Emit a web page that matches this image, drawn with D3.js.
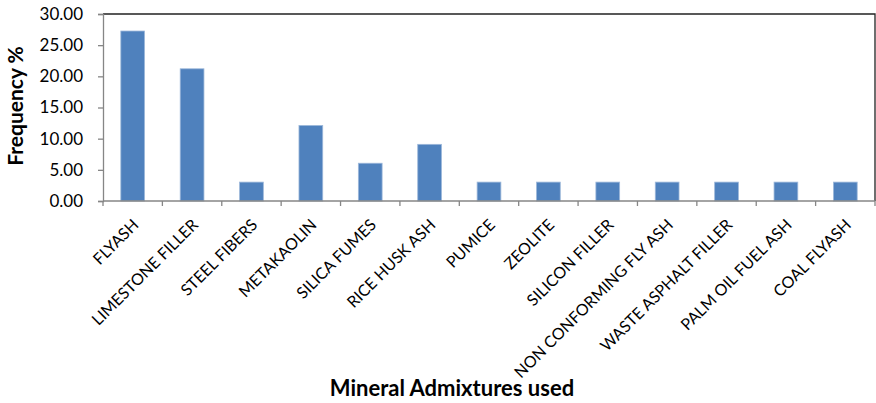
<!DOCTYPE html>
<html>
<head>
<meta charset="utf-8">
<script src="https://cdn.jsdelivr.net/npm/d3@7"></script>
<style>
  html, body { margin: 0; padding: 0; background: #fff; }
  svg { display: block; font-family: Lato, "Open Sans", sans-serif; }
</style>
</head>
<body>
<svg id="chart" width="876" height="403"></svg>
<script>
// Mineral admixtures and their share of the reviewed studies (%)
const categories = [
  "FLYASH", "LIMESTONE FILLER", "STEEL FIBERS", "METAKAOLIN", "SILICA FUMES",
  "RICE HUSK ASH", "PUMICE", "ZEOLITE", "SILICON FILLER", "NON CONFORMING FLY ASH",
  "WASTE ASPHALT FILLER", "PALM OIL FUEL ASH", "COAL FLYASH"
];
const frequency = [27.27, 21.21, 3.03, 12.12, 6.06, 9.09, 3.03, 3.03, 3.03, 3.03, 3.03, 3.03, 3.03];
const yTicks = [0, 5, 10, 15, 20, 25, 30];
const yTitle = "Frequency %";
const xTitle = "Mineral Admixtures used";

const svg = d3.select("#chart");
const plotL = 103, plotR = 875, plotT = 14, plotB = 201;

const x = d3.scaleBand().domain(categories).range([plotL, plotR]).paddingInner(0.6).paddingOuter(0.3);
const xBound = d3.scaleLinear().domain([0, categories.length]).range([plotL, plotR]);
const y = d3.scaleLinear().domain([0, 30]).range([plotB, plotT]);

// plot-area border (top and right)
svg.append("path")
  .attr("d", `M${plotL},${plotT}H${plotR}V${plotB}`)
  .attr("fill", "none").attr("stroke", "#222").attr("stroke-width", 1.3);

// bars
svg.append("g").selectAll("rect").data(frequency).join("rect")
  .attr("x", (d, i) => x(categories[i]))
  .attr("width", x.bandwidth())
  .attr("y", d => y(d))
  .attr("height", d => y(0) - y(d))
  .attr("fill", "#4F81BD")
  .attr("stroke", "#9DB8DA").attr("stroke-width", 0.8);

// y axis
const yAxis = svg.append("g").attr("transform", `translate(${plotL},0)`)
  .call(d3.axisLeft(y).tickValues(yTicks).tickFormat(d3.format(".2f")).tickSize(5).tickPadding(15));
yAxis.select(".domain").attr("stroke", "#868686").attr("stroke-width", 1.3);
yAxis.selectAll(".tick line").attr("stroke", "#868686").attr("stroke-width", 1.3);
yAxis.selectAll(".tick text").attr("font-size", 17).attr("fill", "#000")
  .attr("font-family", "Lato, sans-serif");

// x axis baseline and category boundary ticks
svg.append("line").attr("x1", plotL).attr("x2", plotR).attr("y1", plotB).attr("y2", plotB)
  .attr("stroke", "#868686").attr("stroke-width", 1.3);
svg.append("g").selectAll("line").data(d3.range(categories.length + 1)).join("line")
  .attr("x1", d => xBound(d)).attr("x2", d => xBound(d))
  .attr("y1", plotB).attr("y2", plotB + 5)
  .attr("stroke", "#868686").attr("stroke-width", 1.3);

// rotated category labels
svg.append("g").selectAll("text").data(categories).join("text")
  .attr("transform", d => `translate(${x(d) + x.bandwidth() / 2 - 1},${plotB + 17}) rotate(-45)`)
  .attr("text-anchor", "end")
  .attr("dy", "0.7em")
  .attr("font-size", 16)
  .attr("fill", "#000")
  .text(d => d);

// axis titles
svg.append("text")
  .attr("transform", `translate(23,106) rotate(-90)`)
  .attr("text-anchor", "middle")
  .attr("font-size", 21).attr("font-weight", "bold")
  .text(yTitle);

svg.append("text")
  .attr("x", 452).attr("y", 396)
  .attr("text-anchor", "middle")
  .attr("font-size", 22).attr("font-weight", "bold")
  .text(xTitle);
</script>
</body>
</html>
